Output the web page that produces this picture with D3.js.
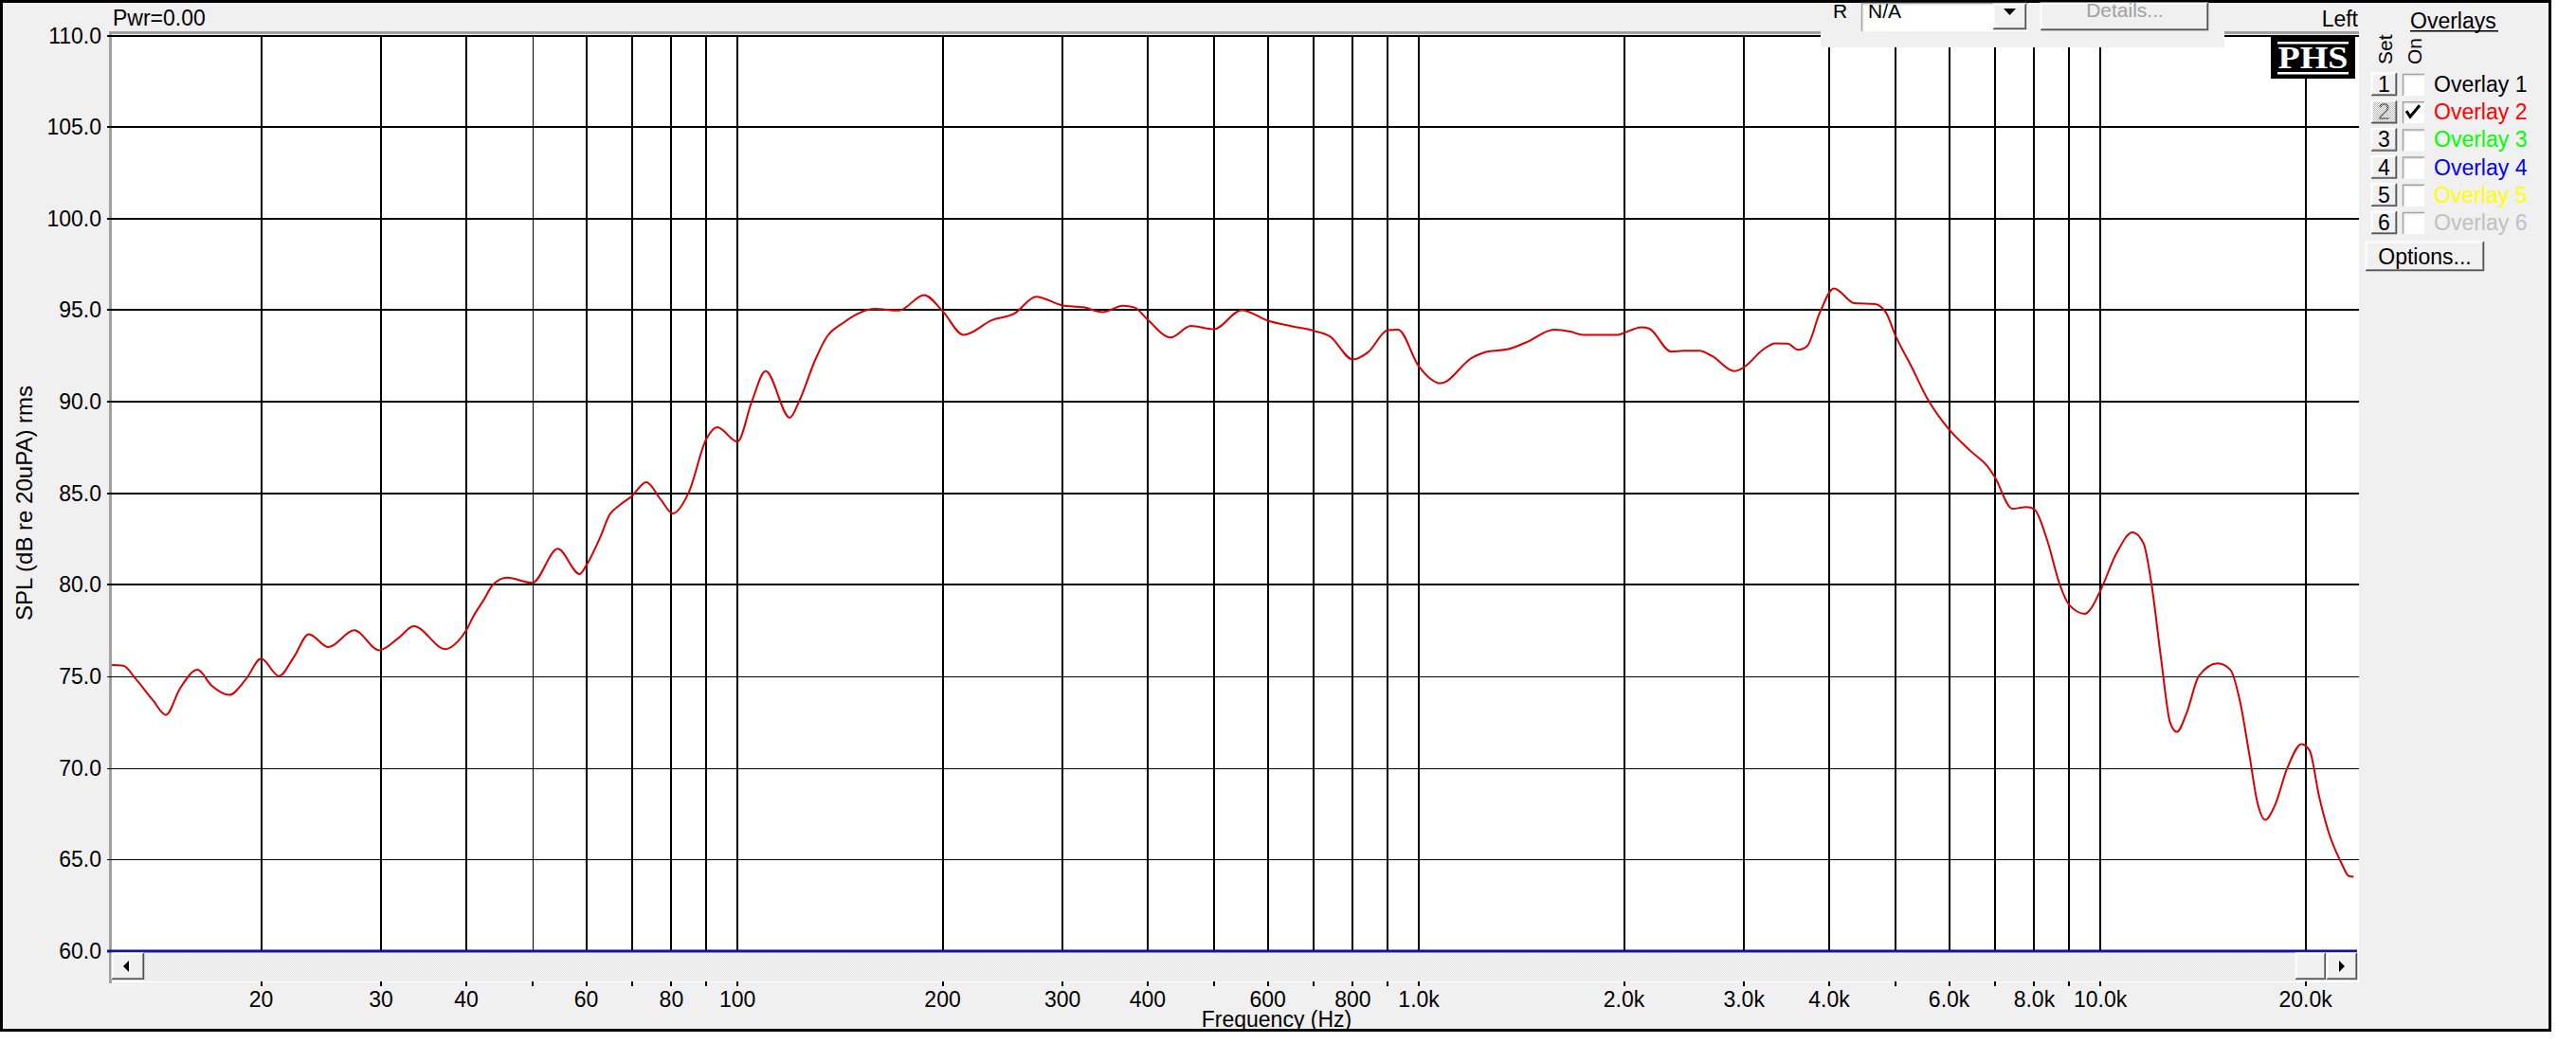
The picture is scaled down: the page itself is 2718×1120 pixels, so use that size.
<!DOCTYPE html>
<html><head><meta charset="utf-8">
<script src="https://cdn.jsdelivr.net/npm/d3@7"></script>
<style>
html,body{margin:0;padding:0;background:#fff;}
svg{display:block;}
</style>
</head><body>
<svg id="chart" width="2718" height="1120" font-family="'Liberation Sans',Arial,sans-serif"></svg>
<script>
// ---------- DATA ----------
const freqs = [12.0,12.55,13.1,13.86,14.5,15.2,16.13,16.92,17.95,19.0,20.0,21.25,22.34,23.5,25.1,27.4,29.8,31.8,33.5,37.3,38.9,40,41.0,42.4,43.8,45.9,50,54.5,58.7,60,62.9,64.9,67.1,70,73.5,77.1,80.4,84.8,90,93.4,100,105,110,119.4,123.2,130,135,143,159,172.5,187.9,200,214.7,236.4,254.7,274.4,300,322,343.4,368,382,400,432,463,500,549.5,600,651.6,700,740.5,800,842,900,932,1000,1076,1197,1263,1347,1436,1580,1668,1740,1957,2000,2120,2176,2346,2446,2582,2694,2905,3000,3197,3334,3478,3600,3714,3875,4066,4357,4669,4848,5000,5281,5569,6000,6469,6823,7000,7430,7796,8000,8356,8718,9003,9500,9660,10000,10570,11150,11570,11890,12270,12670,12950,13370,13950,14870,15520,16030,16550,17000,17460,18030,18810,19740,20280,20940,21600,22560,23160,23530];
const spl = [75.62,75.59,74.85,73.73,72.9,74.33,75.36,74.5,73.99,74.85,75.97,75.02,76.06,77.31,76.6,77.52,76.43,77.09,77.74,76.49,76.92,77.52,78.3,79.16,80.02,80.4,80.11,81.97,80.59,81.06,82.6,83.82,84.34,84.85,85.61,84.68,83.9,85.03,87.96,88.61,87.82,90.03,91.67,89.13,90.03,92.27,93.5,94.31,95.07,94.98,95.83,94.95,93.65,94.46,94.81,95.74,95.26,95.16,94.9,95.24,95.16,94.48,93.51,94.14,93.96,95.0,94.43,94.12,93.88,93.57,92.31,92.7,93.91,93.94,91.93,91.01,92.41,92.75,92.86,93.24,93.94,93.83,93.65,93.65,93.76,94.07,94.0,92.74,92.79,92.79,92.49,91.67,91.89,92.84,93.19,93.17,92.84,93.05,94.86,96.19,95.38,95.34,94.86,93.65,91.93,90.2,88.48,87.27,86.49,85.89,84.16,84.25,84.13,82.44,80.02,78.9,78.42,78.64,79.68,81.75,82.87,82.27,80.02,76.06,72.43,71.97,72.95,75.02,75.71,75.36,73.64,70.7,68.12,67.17,67.95,70.0,71.31,70.96,68.46,66.56,64.84,64.1,64.06];

const gridFreqs = [20,30,40,50,60,70,80,90,100,200,300,400,500,600,700,800,900,1000,2000,3000,4000,5000,6000,7000,8000,9000,10000,20000];
const labelFreqs = [20,30,40,60,80,100,200,300,400,600,800,1000,2000,3000,4000,6000,8000,10000,20000];
const labelTexts = ["20","30","40","60","80","100","200","300","400","600","800","1.0k","2.0k","3.0k","4.0k","6.0k","8.0k","10.0k","20.0k"];
const yTicks = [60,65,70,75,80,85,90,95,100,105,110];
const yTickTexts = ["60.0","65.0","70.0","75.0","80.0","85.0","90.0","95.0","100.0","105.0","110.0"];
const overlayNames = ["Overlay 1","Overlay 2","Overlay 3","Overlay 4","Overlay 5","Overlay 6"];
const overlayColors = ["#000000","#ff0000","#00ff00","#0000ff","#ffff00","#c0c0c0"];
const overlayOn = [false,true,false,false,false,false];

// ---------- SETUP ----------
const svg = d3.select("#chart");
const x = d3.scaleLog().domain([12, 24000]).range([116, 2489.5]);
const y = d3.scaleLinear().domain([60, 110]).range([1004, 37.5]);
const PL = 118, PR = 2489, PT = 37, PB = 1004;

const defs = svg.append("defs");
const sp = defs.append("pattern").attr("id","scrollPat").attr("width",2).attr("height",2).attr("patternUnits","userSpaceOnUse");
sp.append("rect").attr("width",2).attr("height",2).attr("fill","#fafafa");
sp.append("rect").attr("width",1).attr("height",1).attr("fill","#e2e2e2");
sp.append("rect").attr("x",1).attr("y",1).attr("width",1).attr("height",1).attr("fill","#e2e2e2");
const dp = defs.append("pattern").attr("id","ditherPat").attr("width",2).attr("height",2).attr("patternUnits","userSpaceOnUse");
dp.append("rect").attr("width",2).attr("height",2).attr("fill","#ffffff");
dp.append("rect").attr("width",1).attr("height",1).attr("fill","#000");
dp.append("rect").attr("x",1).attr("y",1).attr("width",1).attr("height",1).attr("fill","#000");
const dl = defs.append("pattern").attr("id","ditherLight").attr("width",2).attr("height",2).attr("patternUnits","userSpaceOnUse");
dl.append("rect").attr("width",2).attr("height",2).attr("fill","#ffffff");
dl.append("rect").attr("width",1).attr("height",1).attr("fill","#b8b8b8");
dl.append("rect").attr("x",1).attr("y",1).attr("width",1).attr("height",1).attr("fill","#b8b8b8");
defs.append("clipPath").attr("id","plotClip").append("rect")
  .attr("x",PL).attr("y",PT).attr("width",PR-PL).attr("height",PB-PT);

// outer frame
svg.append("rect").attr("x",1.5).attr("y",1.5).attr("width",2689).attr("height",1086)
  .attr("fill","#f0f0f0").attr("stroke","#000").attr("stroke-width",3);

// plot background
svg.append("rect").attr("x",PL).attr("y",PT).attr("width",PR-PL).attr("height",1037-PT).attr("fill","#fff");
svg.append("rect").attr("x",152).attr("y",1006).attr("width",2422-152).attr("height",30).attr("fill","url(#scrollPat)");

// gray axis borders
svg.append("rect").attr("x",115).attr("y",33).attr("width",3).attr("height",1005).attr("fill","#a0a0a0");
svg.append("rect").attr("x",115).attr("y",33).attr("width",PR-115).attr("height",3).attr("fill","#a0a0a0");

// vertical grid
svg.append("g").selectAll("line").data(gridFreqs).join("line")
  .attr("x1",d=>d===50?Math.round(x(d))+0.5:Math.round(x(d)))
  .attr("x2",d=>d===50?Math.round(x(d))+0.5:Math.round(x(d)))
  .attr("y1",PT).attr("y2",PB)
  .attr("stroke","#000").attr("stroke-width",d=>d===50?1:2);

// horizontal grid
svg.append("g").selectAll("line").data(yTicks.filter(v=>v>60)).join("line")
  .attr("x1",113).attr("x2",PR)
  .attr("y1",d=>d>=80?Math.round(y(d)):Math.round(y(d))+0.5)
  .attr("y2",d=>d>=80?Math.round(y(d)):Math.round(y(d))+0.5)
  .attr("stroke","#000").attr("stroke-width",d=>d>=80?2:1);

// 60 dB blue line
svg.append("line").attr("x1",113).attr("x2",2487).attr("y1",y(60)).attr("y2",y(60))
  .attr("stroke","#1414a0").attr("stroke-width",3);

// curve
const pts = freqs.map((f,i)=>({f, v: spl[i]}));
const line = d3.line().x(d=>x(d.f)).y(d=>y(d.v)).curve(d3.curveMonotoneX);
svg.append("path").datum(pts).attr("d",line).attr("clip-path","url(#plotClip)")
  .attr("fill","none").attr("stroke","#d80000").attr("stroke-width",2);

// 3D helpers
function raised(g, x0, y0, w, h, face){
  g.append("rect").attr("x",x0).attr("y",y0).attr("width",w).attr("height",h).attr("fill",face||"#f0f0f0");
  g.append("path").attr("d",`M${x0+0.5},${y0+h}V${y0+0.5}H${x0+w}`).attr("stroke","#fff").attr("stroke-width",2).attr("fill","none");
  g.append("path").attr("d",`M${x0+1},${y0+h-1.5}H${x0+w-1.5}V${y0+1}`).attr("stroke","#a0a0a0").attr("stroke-width",1).attr("fill","none");
  g.append("path").attr("d",`M${x0},${y0+h-0.5}H${x0+w-0.5}V${y0}`).attr("stroke","#555").attr("stroke-width",1.5).attr("fill","none");
}
function sunken(g, x0, y0, w, h, fill){
  g.append("rect").attr("x",x0).attr("y",y0).attr("width",w).attr("height",h).attr("fill",fill||"#fff");
  g.append("path").attr("d",`M${x0+0.5},${y0+h}V${y0+0.5}H${x0+w}`).attr("stroke","#a0a0a0").attr("stroke-width",1.5).attr("fill","none");
  g.append("path").attr("d",`M${x0+2},${y0+h-2}V${y0+2}H${x0+w-2}`).attr("stroke","#e3e3e3").attr("stroke-width",1).attr("fill","none");
}

// scroll buttons
const sg = svg.append("g");
raised(sg,118,1006,34,28);
sg.append("path").attr("d","M130,1020 L136,1014 L136,1026 Z").attr("fill","#000");
raised(sg,2422,1006,32,28);
raised(sg,2455,1006,32,28);
sg.append("path").attr("d","M2474,1020 L2468,1014 L2468,1026 Z").attr("fill","#000");

// x ticks & labels
svg.append("g").selectAll("line").data(gridFreqs).join("line")
  .attr("x1",d=>Math.round(x(d))).attr("x2",d=>Math.round(x(d)))
  .attr("y1",1036).attr("y2",1041).attr("stroke","#000").attr("stroke-width",2);
svg.append("g").selectAll("text").data(labelFreqs).join("text")
  .attr("x",d=>x(d)).attr("y",1063).attr("text-anchor","middle")
  .attr("font-size",23).attr("fill","#000").text((d,i)=>labelTexts[i]);

// y labels
svg.append("g").selectAll("text").data(yTicks).join("text")
  .attr("x",107).attr("y",d=>y(d)+8).attr("text-anchor","end")
  .attr("font-size",23).attr("fill","#000").text((d,i)=>yTickTexts[i]);

// axis titles
svg.append("text").attr("x",1347).attr("y",1084).attr("text-anchor","middle")
  .attr("font-size",23).text("Frequency (Hz)");
svg.append("text").attr("transform","translate(34,531) rotate(-90)").attr("text-anchor","middle")
  .attr("font-size",24).text("SPL (dB re 20uPA) rms");

// top texts
svg.append("text").attr("x",119).attr("y",27).attr("font-size",23).text("Pwr=0.00");
svg.append("text").attr("x",2488).attr("y",28).attr("text-anchor","end").attr("font-size",23).text("Left");

// R panel
const rp = svg.append("g");
rp.append("rect").attr("x",1921).attr("y",3).attr("width",426).attr("height",47).attr("fill","#f0f0f0");
rp.append("text").attr("x",1934).attr("y",19).attr("font-size",21).text("R");
sunken(rp,1964,3,176,30,"#fff");
rp.append("text").attr("x",1971).attr("y",19).attr("font-size",21).text("N/A");
raised(rp,2103,4,35,27);
rp.append("path").attr("d","M2114,9 L2127,9 L2120.5,16 Z").attr("fill","#000");
raised(rp,2153,3,177,29);
rp.append("text").attr("x",2242).attr("y",18).attr("text-anchor","middle").attr("font-size",21).attr("fill","#a0a0a0").text("Details...");

// PHS logo
const lg = svg.append("g");
lg.append("rect").attr("x",2396).attr("y",38).attr("width",89).attr("height",45).attr("fill","#000");
lg.append("rect").attr("x",2403).attr("y",44).attr("width",75).attr("height",2.5).attr("fill","#fff");
lg.append("rect").attr("x",2403).attr("y",76).attr("width",75).attr("height",2.5).attr("fill","#fff");
lg.append("text").attr("x",2440.5).attr("y",72).attr("text-anchor","middle")
  .style("font-family","'Liberation Serif','Times New Roman',serif").attr("font-weight","bold")
  .attr("font-size",34).attr("fill","#fff").attr("textLength",74).attr("lengthAdjust","spacingAndGlyphs").text("PHS");

// overlays panel
const op = svg.append("g");
op.append("text").attr("x",2543).attr("y",30).attr("font-size",23).text("Overlays");
op.append("rect").attr("x",2543).attr("y",32).attr("width",93).attr("height",1.5).attr("fill","#000");
op.append("text").attr("transform","translate(2524,68) rotate(-90)").attr("font-size",21).text("Set");
op.append("text").attr("transform","translate(2555,68) rotate(-90)").attr("font-size",21).text("On");
overlayNames.forEach((name,i)=>{
  const cy = 89 + i*29.2;
  raised(op,2502,cy-12,27,24, i===1 ? "url(#ditherLight)" : "#f0f0f0");
  op.append("text").attr("x",2515.5).attr("y",cy+8).attr("text-anchor","middle").attr("font-size",23)
    .attr("fill", i===1 ? "url(#ditherPat)" : "#000").text(String(i+1));
  sunken(op,2535,cy-11,23,23,"#fff");
  if(overlayOn[i]){
    op.append("path").attr("d",`M${2539},${cy-1} L${2543},${cy+5} L${2553},${cy-7}`)
      .attr("fill","none").attr("stroke","#000").attr("stroke-width",3);
  }
  op.append("text").attr("x",2568).attr("y",cy+8).attr("font-size",23).attr("fill",overlayColors[i]).text(name);
});
raised(op,2496,255,125,31);
op.append("text").attr("x",2558.5).attr("y",279).attr("text-anchor","middle").attr("font-size",23).text("Options...");
</script>
</body></html>
